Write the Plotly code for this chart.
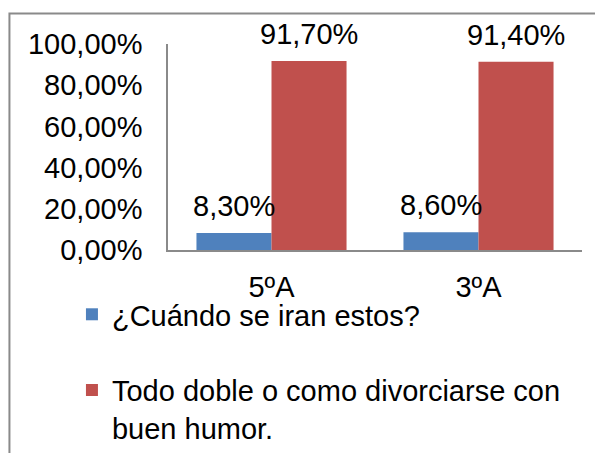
import plotly.graph_objects as go

grupos = ['5ºA', '3ºA']
cuando = [0.083, 0.086]
todo_doble = [0.917, 0.914]
series = ['¿Cuándo se iran estos?', 'Todo doble o como divorciarse con<br>buen humor.']
colores = ['#4F81BD', '#C0504D']
y_ticks = [0, 0.2, 0.4, 0.6, 0.8, 1.0]

FONT = 'Arial, Liberation Sans, sans-serif'
FS = 29
BARGAP = 0.275

fig = go.Figure()
for i, (name, vals) in enumerate(zip(series, [cuando, todo_doble])):
    fig.add_trace(go.Bar(x=grupos, y=vals, name=name,
                         marker=dict(color=colores[i], line=dict(width=0)),
                         legendgroup=f'g{i}'))

# data labels above the bars (Excel leaves a bigger gap than plotly's outside text)
half = (1 - BARGAP) / 4
for i, vals in enumerate([cuando, todo_doble]):
    for j, v in enumerate(vals):
        fig.add_annotation(x=j + (2 * i - 1) * half, y=v, xref='x', yref='y',
                           text=f'{v * 100:.2f}%'.replace('.', ','), showarrow=False,
                           yanchor='bottom', yshift=9,
                           font=dict(size=FS, color='black', family=FONT))

# chart border (only top/left are visible in the crop)
fig.add_shape(type='rect', xref='paper', yref='paper', x0=-0.383, x1=1.1, y0=-1.1, y1=1.148,
              line=dict(color='#8a8a8a', width=2), layer='below')

# page body has an 8px margin; the figure is taller than the window so the
# legend fits without pushing the margins (the overflow is simply cut off)
fig.update_layout(
    width=595, height=470,
    margin=dict(l=160, r=21, t=36, b=228),
    plot_bgcolor='white', paper_bgcolor='white',
    barmode='group', bargap=BARGAP, bargroupgap=0,
    separators=',.',
    font=dict(family=FONT, size=FS, color='black'),
    showlegend=True,
    legend=dict(x=-0.232, xanchor='left', y=-0.189, yanchor='top',
                valign='top', tracegroupgap=35, font=dict(size=FS, family=FONT),
                bgcolor='rgba(0,0,0,0)'),
)
fig.update_yaxes(range=[0, 1], tickvals=y_ticks, tickformat='.2%', showgrid=False, zeroline=False,
                 showline=True, linecolor='#8a8a8a', linewidth=1.5, ticks='', ticklabelstandoff=18,
                 tickfont=dict(size=FS, family=FONT, color='black'))
fig.update_xaxes(showline=True, linecolor='#8a8a8a', linewidth=2, ticks='', ticklabelstandoff=10,
                 tickfont=dict(size=FS, family=FONT, color='black'))

fig.write_html('out.html')
